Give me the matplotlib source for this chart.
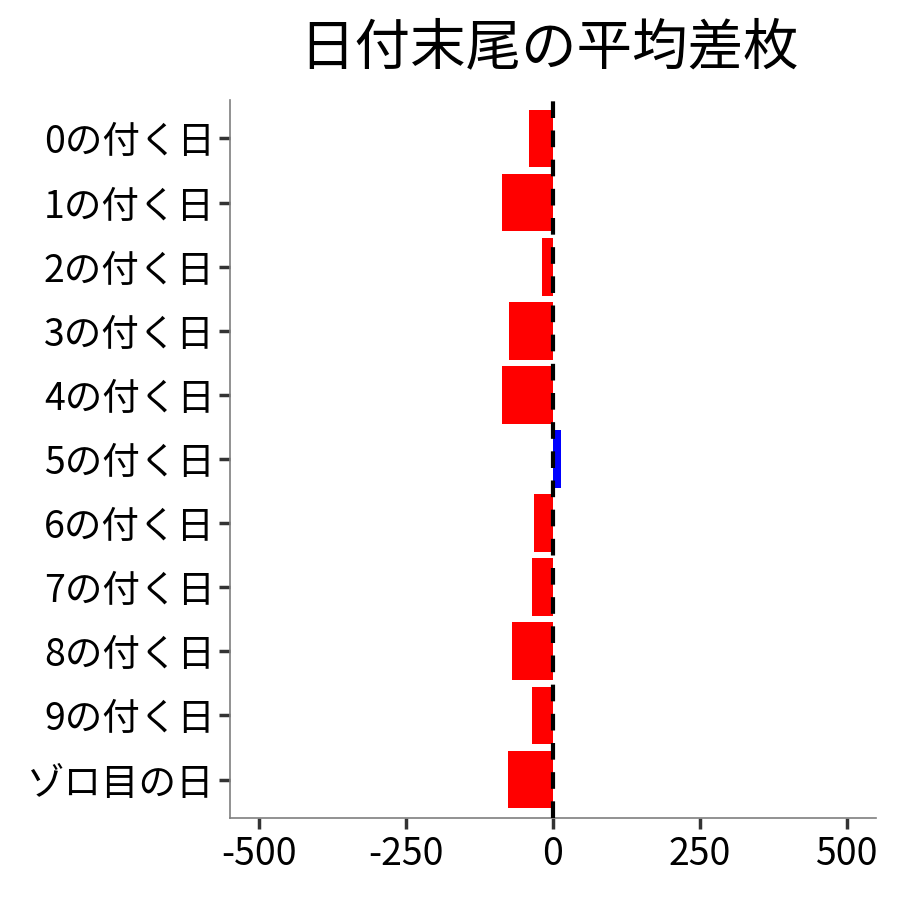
import matplotlib
matplotlib.use("Agg")
import matplotlib.pyplot as plt

plt.rcParams['font.family'] = ['Noto Sans CJK JP', 'DejaVu Sans']

# Average difference per date ending
labels = ["0の付く日", "1の付く日", "2の付く日", "3の付く日", "4の付く日",
          "5の付く日", "6の付く日", "7の付く日", "8の付く日", "9の付く日", "ゾロ目の日"]
values = [-41, -87, -19, -75, -87, 14, -33, -35, -70, -36, -77]
x_ticks = [-500, -250, 0, 250, 500]

colors = ["blue" if v > 0 else "red" for v in values]
pos = list(range(len(labels)))[::-1]

fig = plt.figure(figsize=(9, 9), dpi=100)
ax = fig.add_axes([0.2556, 0.0911, 0.7177, 0.7978])

ax.barh(pos, values, height=0.9, color=colors, zorder=2)
ax.axvline(0, color="black", linestyle=(0, (4, 3)), linewidth=3, zorder=3)

ax.set_xlim(-550, 550)
ax.set_ylim(-0.6, len(labels) - 1 + 0.6)
ax.set_xticks(x_ticks)
ax.set_xticklabels([str(t) for t in x_ticks])
ax.set_yticks(pos)
ax.set_yticklabels(labels)

ax.tick_params(axis="both", labelsize=27, colors="#333333", length=8, width=2.5,
               labelcolor="black", pad=3)
ax.tick_params(axis="x", pad=4)
for side in ["top", "right"]:
    ax.spines[side].set_visible(False)
for side in ["left", "bottom"]:
    ax.spines[side].set_color("#7f7f7f")
    ax.spines[side].set_linewidth(1.2)

fig.text(0.6105, 0.946, "日付末尾の平均差枚", fontsize=40, ha="center", va="center")

plt.savefig("out.png", dpi=100)
